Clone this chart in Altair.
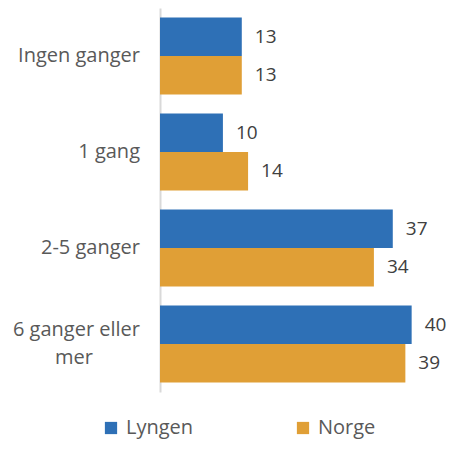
import altair as alt
import pandas as pd

categories = ["Ingen ganger", "1 gang", "2-5 ganger", "6 ganger eller mer"]
series = ["Lyngen", "Norge"]
lyngen = [13, 10, 37, 40]
norge = [13, 14, 34, 39]
colors = ["#2e70b6", "#e09f36"]

rows = []
for c, a, b in zip(categories, lyngen, norge):
    rows.append({"kategori": c, "serie": "Lyngen", "verdi": a})
    rows.append({"kategori": c, "serie": "Norge", "verdi": b})
df = pd.DataFrame(rows)
cat_df = pd.DataFrame({"kategori": categories})

FONT = "Open Sans"
FS = 20
LABEL_COLOR = "#595959"

y_enc = alt.Y(
    "kategori:N",
    sort=categories,
    scale=alt.Scale(paddingInner=0.2, paddingOuter=0.1),
    axis=alt.Axis(
        title=None,
        ticks=False,
        grid=False,
        labels=False,
        domainColor="#d9d9d9",
        domainWidth=2,
    ),
)
yoff = alt.YOffset("serie:N", sort=series, scale=alt.Scale(paddingInner=0, paddingOuter=0))
x_enc = alt.X("verdi:Q", scale=alt.Scale(domain=[0, 45.3], nice=False), axis=None)

bars = alt.Chart(df).mark_bar(stroke=None).encode(
    x=x_enc,
    y=y_enc,
    yOffset=yoff,
    color=alt.Color(
        "serie:N",
        sort=series,
        scale=alt.Scale(domain=series, range=colors),
        legend=alt.Legend(
            title=None,
            orient="none",
            legendX=-59,
            legendY=410,
            direction="horizontal",
            symbolType="square",
            symbolSize=150,
            symbolStrokeWidth=0,
            labelFontSize=FS,
            labelFont=FONT,
            labelColor=LABEL_COLOR,
            labelOffset=5,
            columnPadding=99,
        ),
    ),
)

values = alt.Chart(df).mark_text(
    align="left", baseline="middle", dx=13, fontSize=19, font=FONT, color="#404040"
).encode(
    x=x_enc,
    y=alt.Y("kategori:N", sort=categories),
    yOffset=alt.YOffset("serie:N", sort=series),
    text=alt.Text("verdi:Q"),
)

# category labels (drawn as text so the wrapped label can centre its second line)
single = alt.Chart(cat_df).transform_filter(
    alt.datum.kategori != "6 ganger eller mer"
).mark_text(
    align="right", baseline="middle", fontSize=FS, font=FONT, color=LABEL_COLOR
).encode(
    x=alt.value(-20),
    y=alt.Y("kategori:N", sort=categories),
    text="kategori:N",
)

wrap1 = alt.Chart(cat_df).transform_filter(
    alt.datum.kategori == "6 ganger eller mer"
).mark_text(
    align="right", baseline="middle", dy=-14, fontSize=FS, font=FONT, color=LABEL_COLOR
).encode(
    x=alt.value(-20),
    y=alt.Y("kategori:N", sort=categories),
    text=alt.value("6 ganger eller"),
)

wrap2 = alt.Chart(cat_df).transform_filter(
    alt.datum.kategori == "6 ganger eller mer"
).mark_text(
    align="center", baseline="middle", dy=14, fontSize=FS, font=FONT, color=LABEL_COLOR
).encode(
    x=alt.value(-86),
    y=alt.Y("kategori:N", sort=categories),
    text=alt.value("mer"),
)

chart = (
    alt.layer(bars, values, single, wrap1, wrap2)
    .properties(
        width=285,
        height=384,
        autosize=alt.AutoSizeParams(type="none"),
        padding={"left": 152, "top": 0, "right": 3, "bottom": 51},
    )
    .configure_view(stroke=None)
)

chart.save("out.html", embed_options={"renderer": "svg", "actions": False})
